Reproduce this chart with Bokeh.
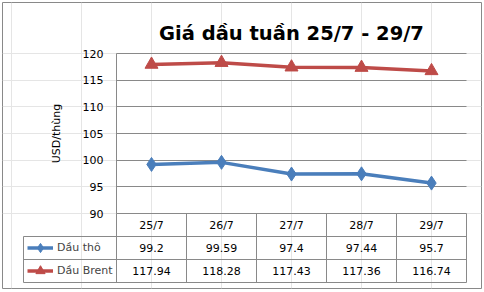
import numpy as np
from bokeh.plotting import figure
from bokeh.models import (Range1d, LinearAxis, FixedTicker, Legend, LegendItem,
                          Label, ColumnDataSource, Grid)
from bokeh.core.properties import value
from bokeh.embed import file_html
from bokeh.resources import INLINE

# ---------------- data ----------------
title_text = "Giá dầu tuần 25/7 - 29/7"
y_label = "USD/thùng"
categories = ["25/7", "26/7", "27/7", "28/7", "29/7"]
series_names = ["Dầu thô", "Dầu Brent"]
crude = [99.2, 99.59, 97.4, 97.44, 95.7]
brent = [117.94, 118.28, 117.43, 117.36, 116.74]
y_ticks = [90, 95, 100, 105, 110, 115, 120]

# ---------------- layout (pixels) ----------------
W, H = 484, 292
frame_l, frame_r, frame_t, frame_b = 2, 481, 2, 288
plot_l, col_w = 116, 70
plot_t, plot_b = 53, 213
row_h = 23
leg_l = 23
FONT = "DejaVu Sans"
GRID = "#898989"
BLUE = "#4A7EBB"
RED = "#BE4B48"

n = len(categories)
xs = list(range(n))
x_start = -0.5 - (plot_l - frame_l) / col_w
x_end = -0.5 + (frame_r - plot_l) / col_w
ymin, ymax = y_ticks[0], y_ticks[-1]
ppu_y = (plot_b - plot_t) / (ymax - ymin)
y_end = ymax + (plot_t - frame_t) / ppu_y
y_start = ymin - (frame_b - plot_b) / ppu_y
tbl_bottom = plot_b + 3 * row_h
t_start = -(frame_b - tbl_bottom) / row_h
t_end = (tbl_bottom - frame_t) / row_h
leg_x = -0.5 - (plot_l - leg_l) / col_w

p = figure(width=W, height=H, output_backend="svg", toolbar_location=None,
           x_range=Range1d(x_start, x_end), y_range=Range1d(y_start, y_end),
           x_axis_location=None, y_axis_location=None,
           min_border_left=frame_l, min_border_right=W - frame_r,
           min_border_top=frame_t, min_border_bottom=H - frame_b)
p.extra_y_ranges = {"tbl": Range1d(t_start, t_end)}
p.outline_line_color = GRID
p.background_fill_color = "white"
p.border_fill_color = "white"

# y axis at the left edge of the plot area
yax = LinearAxis(ticker=FixedTicker(ticks=y_ticks), fixed_location=-0.5,
                 bounds=(ymin, ymax), axis_label=y_label)
yax.axis_line_color = GRID
yax.major_tick_in = 0
yax.major_tick_out = 0
yax.minor_tick_in = 0
yax.minor_tick_out = 0
yax.major_label_standoff = 13
yax.major_label_text_font = FONT
yax.major_label_text_font_size = "11px"
yax.major_label_text_color = "black"
yax.axis_label_text_font = FONT
yax.axis_label_text_font_size = "11px"
yax.axis_label_text_font_style = "normal"
yax.axis_label_text_color = "black"
yax.axis_label_standoff = 17
p.add_layout(yax, "left")

grid = Grid(dimension=1, ticker=FixedTicker(ticks=y_ticks),
            grid_line_color=GRID, cross_bounds=(-0.5, n - 0.5))
p.add_layout(grid)

src = ColumnDataSource(dict(
    x=xs, crude=crude, brent=brent, cat=categories,
    crude_lbl=[str(v) for v in crude], brent_lbl=[str(v) for v in brent],
    r_cat=[2.5] * n, r_crude=[1.5] * n, r_brent=[0.5] * n))

l1 = p.line("x", "crude", source=src, line_color=BLUE, line_width=3.5)
s1 = p.scatter("x", "crude", source=src, marker="diamond",
               size=14, fill_color=BLUE, line_color=BLUE, line_width=1)
l2 = p.line("x", "brent", source=src, line_color=RED, line_width=3.5)
s2 = p.scatter("x", "brent", source=src, marker="triangle", size=13,
               fill_color=RED, line_color=RED)

# data table lines
rows = [0, 1, 2]
p.segment(x0=[leg_x] * len(rows), y0=rows, x1=[n - 0.5] * len(rows), y1=rows,
          y_range_name="tbl", line_color=GRID, line_width=1)
vx = [i - 0.5 for i in range(n + 1)]
p.segment(x0=vx, y0=[0] * len(vx), x1=vx, y1=[3] * len(vx),
          y_range_name="tbl", line_color=GRID, line_width=1)
p.segment(x0=[leg_x], y0=[0], x1=[leg_x], y1=[2],
          y_range_name="tbl", line_color=GRID, line_width=1)

txt = dict(source=src, y_range_name="tbl", text_align="center",
           text_baseline="middle", text_font=value(FONT),
           text_font_size=value("11px"), text_color="black")
p.text("x", "r_cat", text="cat", **txt)
p.text("x", "r_crude", text="crude_lbl", **txt)
p.text("x", "r_brent", text="brent_lbl", **txt)

legend = Legend(items=[LegendItem(label=series_names[0], renderers=[l1, s1]),
                       LegendItem(label=series_names[1], renderers=[l2, s2])],
                location=(27 - frame_l, frame_b - tbl_bottom),
                glyph_width=26, glyph_height=23, label_height=23, spacing=0,
                padding=0, margin=0, label_standoff=4,
                label_text_font=FONT, label_text_font_size="11px",
                background_fill_alpha=0, border_line_alpha=0)
p.add_layout(legend)

title = Label(x=(n - 1) / 2, y=ymax + (plot_t - 33) / ppu_y, text=title_text,
              text_align="center", text_baseline="alphabetic",
              text_font=FONT, text_font_style="bold", text_font_size="19.5px",
              text_color="black")
p.add_layout(title)

open("out.html", "w").write(file_html(p, INLINE))
